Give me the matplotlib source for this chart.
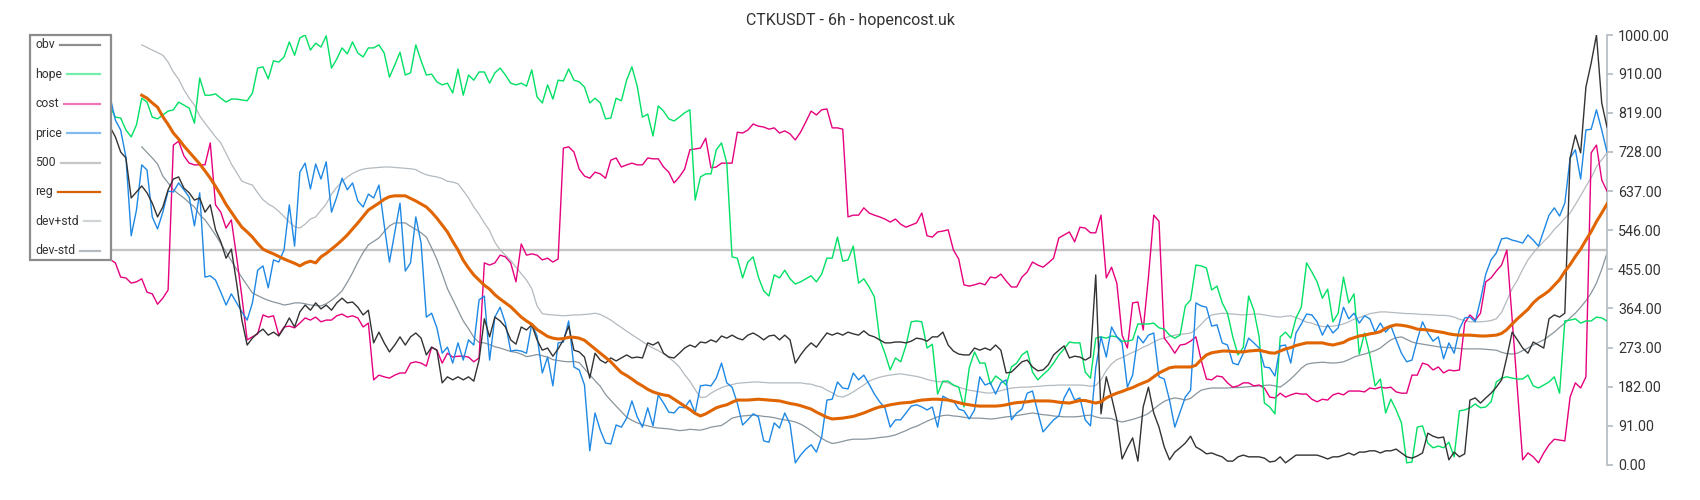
import numpy as np
import matplotlib
matplotlib.use('Agg')
import matplotlib.pyplot as plt
from matplotlib.lines import Line2D
from matplotlib.patches import Rectangle
from matplotlib.ticker import FormatStrFormatter

plt.rcParams['font.family'] = ['Roboto', 'DejaVu Sans']

title = 'CTKUSDT - 6h - hopencost.uk'
level = 500          # the flat "500" line
band_start = 21      # reg / dev bands start after the rolling window
yticks = [0, 91, 182, 273, 364, 455, 546, 637, 728, 819, 910, 1000]

# values, one per 6h bar
obv = [860, 850, 845, 855, 840, 830, 835, 820, 815, 825, 810, 800, 805, 795, 790, 786,
       763, 728, 714, 621, 635, 649, 633, 609, 577, 600, 640, 665, 670, 644, 633,
       616, 621, 588, 605, 547, 519, 481, 502, 423, 337, 279, 295, 307, 316, 302,
       309, 300, 319, 342, 321, 356, 372, 360, 377, 363, 372, 360, 377, 388, 377,
       379, 367, 349, 360, 284, 309, 284, 263, 279, 298, 279, 298, 307, 295, 256,
       274, 267, 191, 205, 198, 205, 198, 205, 195, 244, 340, 298, 344, 335, 321,
       291, 281, 321, 314, 326, 291, 267, 272, 253, 270, 291, 323, 267, 263, 251,
       202, 260, 244, 237, 249, 242, 249, 256, 249, 251, 249, 284, 279, 286, 260,
       251, 249, 260, 272, 279, 274, 286, 284, 291, 286, 300, 295, 302, 295, 291,
       302, 307, 300, 291, 300, 302, 291, 302, 291, 237, 256, 272, 284, 274, 291,
       307, 302, 307, 302, 309, 305, 302, 312, 302, 298, 291, 284, 284, 286, 286,
       284, 288, 295, 293, 288, 298, 298, 309, 279, 265,
       258, 256, 256, 272, 267, 272, 267, 279, 267,
       214, 216, 228, 240, 244, 228, 219, 221, 233, 256, 267, 277, 249, 253, 251, 244, 251, 442,
       119, 205, 158, 105, 14, 40, 63, 9, 135, 181, 121, 88, 42, 12, 30, 40, 51, 67, 42, 35,
       26, 28, 23, 19, 9, 9, 19, 23, 19, 19, 19, 16, 7, 9, 19, 5, 14,
       23, 23,
       23, 23, 23, 19, 14, 19, 19, 23, 28, 23, 30, 30, 33, 33, 28, 33, 33, 37, 28, 19,
       16, 21, 28, 74, 67, 63, 65, 12, 30, 19, 26, 151, 156, 144, 156, 167, 181, 198, 251, 309,
       291, 272, 260, 286, 279, 272, 340, 349, 344, 353, 714, 767, 726, 879, 935, 1000, 842, 786]

hope = [840, 830, 835, 820, 825, 815, 830, 820, 810, 825, 815, 830, 820, 828, 835, 833,
        809, 807, 779, 763, 791, 853, 844, 809, 805, 814, 823, 826, 844, 837, 830,
        795, 900, 860, 860, 863, 853, 844, 851, 851, 849, 847, 865, 923, 926, 898,
        940, 937, 949, 984, 953, 993, 1000, 965, 981, 972, 998, 923, 944, 970, 956,
        984, 958, 949, 970, 970, 977, 958, 902, 930, 960, 907, 912, 977, 940, 907,
        909, 891, 884, 888, 865, 921, 860, 907, 895, 914, 914, 888, 912, 923, 907,
        888, 884, 888, 881, 919, 856, 842, 884, 851, 895, 893, 921, 895, 891, 879,
        842, 853, 842, 805, 807, 853, 847, 895, 926, 881, 809, 816, 765, 835, 823,
        805, 800, 809, 819, 826, 616, 670, 677, 677, 733, 749, 702, 484, 481, 435,
        472, 484, 437, 405, 393, 442, 435, 453, 433, 421, 426, 433, 440, 426, 444,
        481, 481, 530, 474, 477, 509, 423, 433, 414, 391, 293, 260, 221, 249, 240,
        278, 333, 335, 333, 272, 281, 165, 195, 195, 186, 181, 135, 226, 263, 237,
        237, 188, 207, 198, 186, 228, 237, 256, 265, 216, 198,
        210, 221, 237, 256, 270, 286, 284, 284, 216, 202, 295, 298, 295, 300, 298,
        288, 288, 291, 328, 328, 328, 330, 319, 316, 302, 295, 302, 370, 384, 465,
        463, 458, 407, 416, 377, 353, 298, 256, 274, 393, 360, 298, 144, 135, 119,
        298, 309, 295, 342, 367, 470, 449, 426, 388, 409, 333, 353, 437, 377, 398,
        258, 307, 256, 184, 200, 121, 153, 128, 98, 5, 7, 88, 91, 51, 40,
        44, 40, 53, 19, 126, 128, 133, 142, 133, 135, 147, 193, 202, 205, 202,
        200, 200, 209, 184, 179, 186, 193, 205, 167, 335, 337, 340, 330, 335, 335, 344, 342, 335]

cost = [520, 510, 500, 505, 495, 500, 490, 495, 488, 492, 485, 490, 484, 488, 482, 478,
        470, 437, 435, 423, 426, 433, 402, 398, 374, 388, 407, 744, 753, 719, 702,
        698, 698, 698, 749, 605, 588, 551, 570, 484, 391, 291, 298, 305, 349, 344,
        347, 302, 321, 323, 319, 330, 342, 337, 344, 333, 337, 337, 347, 351, 344,
        347, 342, 321, 330, 198, 209, 205, 202, 209, 214, 214, 237, 240, 237, 230,
        274, 267, 237, 260, 251, 253, 253, 251, 240, 249, 470, 465, 470, 488, 484,
        470, 426, 514, 488, 491, 488, 477, 481, 472, 479, 737, 740, 728, 688, 672,
        667, 681, 677, 667, 709, 714, 693, 698, 702, 698, 698, 714, 712, 712, 693,
        681, 656, 670, 688, 733, 735, 737, 760, 691, 693, 702, 702, 702, 774, 772,
        779, 793, 788, 786, 781, 784, 772, 777, 770, 756, 774, 798, 823, 814, 826,
        828, 784, 784, 781, 577, 581, 581, 598, 586, 581, 577, 572, 565, 572, 560,
        553, 558, 563, 586, 533, 530, 542, 544, 547, 500, 479, 419, 416, 419, 423,
        419, 437, 435, 444, 428, 414, 414, 437, 449, 472, 465, 460, 470, 481, 528,
        535, 542, 519, 553, 551, 540, 540, 581, 435, 460, 423, 302, 272, 377, 379,
        314, 437, 581, 567, 295, 279, 260, 279, 281, 288, 298, 244, 200, 198, 207,
        205, 191, 181, 184, 191, 191, 184, 186, 179, 158, 156, 167, 158, 163, 167,
        165, 165, 153, 147, 153, 151, 163, 167, 163, 172, 172, 172, 170, 179, 177,
        181, 179, 181, 170, 167, 167, 209, 209, 237, 233, 221, 228, 214, 221, 219,
        221, 330, 349, 337, 353, 426, 435, 451, 465, 500, 340, 175, 12, 28, 19,
        5, 28, 47, 60, 58, 56, 158, 191, 179, 205, 726, 744, 663, 637]

price = [930, 915, 900, 885, 900, 880, 870, 875, 860, 850, 865, 850, 858, 845, 852, 856,
         802, 779, 716, 533, 593, 698, 686, 577, 549, 588, 637, 635, 656, 640, 623,
         556, 633, 437, 440, 430, 402, 372, 398, 377, 356, 337, 377, 453, 463, 412,
         477, 472, 500, 605, 509, 681, 702, 642, 700, 665, 705, 588, 623, 667, 640,
         656, 614, 600, 630, 621, 651, 558, 472, 540, 609, 451, 470, 577, 516, 344,
         353, 319, 260, 274, 237, 284, 244, 291, 279, 384, 393, 244, 344, 367, 330,
         265, 267, 265, 260, 328, 300, 214, 251, 184, 284, 286, 335, 228, 221, 186,
         33, 121, 81, 51, 49, 93, 88, 109, 149, 112, 88, 133, 91, 163, 144,
         123, 121, 135, 133, 151, 121, 184, 186, 184, 202, 237, 191, 181, 144, 93,
         105, 119, 112, 56, 53, 98, 86, 121, 95, 5, 23, 37, 47, 30, 65,
         151, 153, 193, 179, 177, 214, 198, 209, 188, 165, 147, 133, 88, 105, 105,
         121, 137, 140, 135, 128, 135, 88, 160,
         153, 149, 130, 126, 107, 128, 205, 186, 191, 165, 191, 198, 105, 121, 130,
         167, 172, 123, 77, 91, 105, 114, 156, 179, 151, 156, 105, 91, 226, 298,
         251, 321, 298, 284, 181, 209, 300, 284, 302, 307, 205, 200, 151, 88, 123,
         158, 174, 377, 370, 367, 323, 326, 284, 279, 237, 233, 260, 295, 284, 272,
         228, 226, 207, 277, 279, 237, 307, 328, 351, 349, 333, 302, 326, 307, 319,
         367, 340, 353, 330, 347, 340, 309, 330, 309, 323, 291, 260, 240, 244, 291,
         333, 307, 288, 298, 247, 284, 260, 316, 342, 344, 333, 384, 444, 477, 493,
         526, 528, 523, 520, 516, 535, 523, 509, 545, 581, 598, 579, 609, 714, 733,
         665, 779, 781, 826, 779, 728]

reg = [860, 853, 842, 832, 810, 792, 772, 758, 742, 728, 714, 700, 684, 667, 648,
       628, 606, 588, 570, 553, 542, 530, 515, 502, 496, 491, 485, 479, 474, 469,
       463, 470, 474, 470, 484, 492, 502, 512, 523, 535, 549, 563, 578, 593, 601,
       609, 618, 624, 626, 626, 626, 620, 614, 607, 600, 588, 574, 558, 542, 520,
       500, 476, 458, 442, 430, 418, 409, 396, 386, 377, 368, 356, 344, 335, 327,
       315, 307, 299, 295, 293, 294, 297, 297, 295, 290, 280, 270, 260, 250, 240,
       227, 215, 208, 200, 191, 184, 176, 170, 166, 163, 161, 153, 145, 137, 129,
       120, 114, 119, 126, 133, 137, 140, 146, 151, 151, 151, 152, 153, 152, 151,
       150, 149, 146, 143, 141, 138, 134, 130, 123, 117, 111, 107, 108, 109, 111,
       113, 117, 121, 126, 131, 135, 137, 140, 142, 144, 145, 146, 149, 151, 152,
       153, 153, 152, 151, 148, 145, 142, 140, 138, 137, 137, 137, 137, 138, 140,
       143, 145, 146, 147, 149, 149, 149, 149, 148, 146, 145, 144, 147, 150, 150,
       147, 144, 147, 156, 162, 167, 171, 176, 180, 186, 191, 196, 205, 214, 220,
       226, 228, 228, 228, 228, 232, 245, 256, 261, 263, 265, 265, 264, 263, 263,
       265, 266, 267, 264, 261, 260, 265, 270, 273, 278, 281, 284, 284, 284, 284,
       281, 279, 282, 285, 292, 296, 300, 302, 305, 307, 310, 318, 323, 326, 325,
       323, 320, 316, 315, 314, 312, 310, 308, 305, 303, 302, 302, 302, 301, 300,
       300, 301, 302, 306, 315, 328, 340, 351, 362, 377, 388, 396, 405, 418, 431,
       450, 466, 485, 502, 523, 543, 566, 586, 607]

dev_plus = [977, 971, 965, 959, 953, 937, 914, 897, 873, 853, 837, 812, 795, 779, 763,
            749, 725, 700, 680, 660, 655, 651, 633, 617, 607, 600, 590, 578, 565, 554,
            551, 560, 572, 577, 592, 607, 630, 646, 659, 670, 678, 684, 688, 690, 691,
            692, 693, 693, 692, 691, 690, 689, 687, 680, 675, 672, 670, 666, 660, 658,
            654, 638, 621, 600, 583, 563, 545, 518, 500, 488, 476, 460, 445, 430, 410,
            370, 352, 350, 349, 348, 347, 348, 349, 349, 350, 351, 353, 350, 344, 337,
            328, 320, 311, 303, 295, 287, 279, 272, 266, 259, 250, 240, 228, 210, 195,
            175, 157, 158, 167, 174, 180, 184, 187, 190, 191, 192, 193, 193, 192, 191,
            191, 191, 191, 191, 191, 191, 189, 188, 184, 181, 174, 168, 160, 158, 163,
            170, 178, 186, 195, 200, 204, 207, 209, 211, 212, 210, 208, 206, 203, 199,
            196, 194, 193, 191, 185, 181, 177, 174, 172, 170, 168, 167, 170, 173, 176,
            179, 180, 181, 181, 182, 183, 184, 185, 185, 186, 186, 186, 186, 186, 185,
            183, 185, 198, 220, 235, 245, 250, 256, 262, 267, 274, 279, 286, 292, 295,
            299, 302, 304, 305, 307, 315, 327, 340, 349, 351, 353, 352, 351, 350, 349,
            350, 351, 351, 349, 347, 345, 344, 346, 347, 343, 338, 332, 330, 325, 322,
            322, 323, 325, 328, 333, 339, 343, 347, 352, 354, 356, 356, 355, 354, 353,
            352, 352, 351, 350, 350, 349, 348, 348, 347, 344, 339, 336, 333, 333, 333,
            334, 336, 340, 355, 382, 410, 430, 455, 477, 493, 507, 520, 532, 548, 560,
            574, 586, 606, 626, 648, 668, 693, 710, 726]

dev_minus = [740, 727, 714, 700, 672, 656, 640, 630, 621, 610, 600, 582, 570, 553, 535,
             515, 495, 475, 455, 436, 418, 400, 394, 388, 383, 379, 376, 372, 374, 377,
             377, 375, 372, 371, 370, 375, 383, 393, 405, 425, 447, 472, 494, 512, 520,
             528, 543, 556, 563, 563, 563, 555, 548, 540, 530, 505, 478, 445, 410, 385,
             360, 335, 317, 297, 285, 284, 280, 275, 272, 268, 264, 262, 258, 252, 254,
             257, 254, 251, 245, 243, 241, 240, 241, 238, 224, 210, 196, 183, 164, 150,
             137, 124, 111, 104, 98, 94, 91, 88, 86, 85, 84, 82, 80, 81, 83,
             82, 81, 84, 88, 90, 92, 100, 109, 112, 114, 115, 116, 115, 113, 112,
             110, 107, 105, 103, 100, 95, 88, 80, 71, 62, 55, 50, 52, 55, 58,
             60, 60, 60, 61, 62, 64, 65, 67, 70, 75, 80, 86, 90, 96, 102,
             107, 112, 115, 116, 114, 113, 111, 109, 109, 109, 108, 107, 108, 110, 112,
             113, 115, 117, 119, 121, 119, 117, 116, 114, 113, 112, 112, 112, 113, 115,
             116, 112, 109, 109, 108, 103, 100, 103, 106, 110, 114, 120, 130, 140, 148,
             153, 156, 154, 151, 155, 165, 174, 177, 179, 179, 179, 179, 180, 180, 181,
             182, 183, 184, 185, 186, 184, 181, 190, 200, 212, 225, 234, 237, 238, 239,
             238, 237, 238, 240, 245, 251, 255, 258, 262, 266, 272, 282, 291, 296, 298,
             292, 286, 283, 281, 279, 277, 275, 274, 273, 272, 271, 270, 270, 270, 270,
             269, 268, 267, 262, 259, 258, 260, 266, 272, 279, 285, 291, 300, 309, 320,
             330, 342, 353, 367, 382, 400, 423, 455, 493]

W, H = 1700, 500
fig = plt.figure(figsize=(W / 100, H / 100), dpi=100)
ax = fig.add_axes([30 / W, 35 / H, 1577 / W, 430 / H])

x = np.arange(len(obv))
xb = np.arange(band_start, band_start + len(reg))

ax.axhline(level, color='#c4c4c4', lw=1.7, zorder=1)
ax.plot(xb, dev_plus, color='#b3bac0', lw=0.9, zorder=2)
ax.plot(xb, dev_minus, color='#89959d', lw=0.9, zorder=2)
ax.plot(np.arange(len(cost)), cost, color='#e6007e', lw=1.0, zorder=3)
ax.plot(np.arange(len(hope)), hope, color='#00e064', lw=1.0, zorder=3)
ax.plot(np.arange(len(price)), price, color='#1e88e5', lw=1.0, zorder=4)
ax.plot(x, obv, color='#333333', lw=1.0, zorder=4)
ax.plot(xb, reg, color='#e06400', lw=2.2, zorder=5)

ax.set_xlim(-0.2, len(obv) - 1)
ax.set_ylim(0, 1000)
ax.set_xticks([])
for s in ('top', 'left', 'bottom'):
    ax.spines[s].set_visible(False)
ax.spines['right'].set_color('#b7c0c7')
ax.spines['right'].set_linewidth(1.3)
ax.yaxis.tick_right()
ax.set_yticks(yticks)
ax.yaxis.set_major_formatter(FormatStrFormatter('%.2f'))
ax.tick_params(axis='y', length=4, width=1.3, color='#b7c0c7',
               labelcolor='#333333', labelsize=10.3, pad=4)

fig.text(0.5, 1 - 21 / H, title, ha='center', va='center', fontsize=11.5, color='#333333')

# legend box drawn by hand: label on the left, line on the right
names = ['obv', 'hope', 'cost', 'price', '500', 'reg', 'dev+std', 'dev-std']
colors = ['#333333', '#00e064', '#e6007e', '#1e88e5', '#c6c6c6', '#d86000', '#bcc3c9', '#8b979f']
alphas = [0.55, 0.55, 0.55, 0.55, 1.0, 1.0, 0.7, 0.65]

fig.add_artist(Rectangle((30 / W, 1 - 260 / H), 81 / W, 225 / H, transform=fig.transFigure,
                         facecolor='white', edgecolor='#8c8c8c', lw=1.6, zorder=10))
renderer = fig.canvas.get_renderer()
for k, (name, c, a) in enumerate(zip(names, colors, alphas)):
    yy = 1 - (45 + 29.4 * k) / H
    t = fig.text(35 / W, yy, name, ha='left', va='center', fontsize=8.8,
                 color='#333333', zorder=11)
    x1 = t.get_window_extent(renderer=renderer).x1
    fig.add_artist(Line2D([(x1 + 5) / W, 100 / W], [yy, yy], transform=fig.transFigure,
                          color=c, alpha=a, lw=1.6, zorder=11))

fig.savefig('out.png', dpi=100, facecolor='white')
